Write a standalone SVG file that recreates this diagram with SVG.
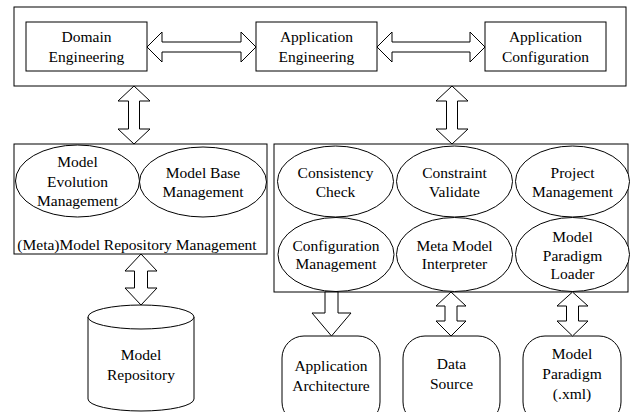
<svg xmlns="http://www.w3.org/2000/svg" width="632" height="412" viewBox="0 0 632 412">
<style>
.b{fill:#fff;stroke:#000;stroke-width:1}
.a{fill:#fff;stroke:#000;stroke-width:1;stroke-linejoin:miter}
.t{font-family:'Liberation Serif','DejaVu Serif',serif;font-size:15.5px;fill:#000;text-anchor:middle}
</style>
<rect width="632" height="412" fill="#fff"/>
<g class="t" font-family="Liberation Serif, serif">
<g id="top-container"><rect class="b" x="14" y="7" width="612" height="79"/></g>
<g id="domain-engineering"><rect class="b" x="26" y="22" width="121" height="49"/><text x="86.5" y="42">Domain</text><text x="86.5" y="62">Engineering</text></g>
<g id="application-engineering"><rect class="b" x="256" y="22" width="121" height="49"/><text x="316.5" y="42">Application</text><text x="316.5" y="62">Engineering</text></g>
<g id="application-configuration"><rect class="b" x="485" y="22" width="121" height="49"/><text x="545.5" y="42">Application</text><text x="545.5" y="62">Configuration</text></g>
<g id="repository-management"><rect class="b" x="14" y="144" width="253" height="110"/><text x="137" y="250">(Meta)Model Repository Management</text></g>
<g id="model-evolution"><ellipse class="b" cx="77.5" cy="181" rx="62" ry="36"/><text x="77.5" y="167">Model</text><text x="77.5" y="187">Evolution</text><text x="77.5" y="206">Management</text></g>
<g id="model-base"><ellipse class="b" cx="203" cy="182" rx="63.5" ry="35"/><text x="203" y="178">Model Base</text><text x="203" y="197">Management</text></g>
<g id="tools-container"><rect class="b" x="274" y="144" width="354" height="148"/></g>
<g id="consistency-check"><ellipse class="b" cx="335.5" cy="181.5" rx="58" ry="35.5"/><text x="335.5" y="178">Consistency</text><text x="335.5" y="197">Check</text></g>
<g id="constraint-validate"><ellipse class="b" cx="454.5" cy="181.5" rx="58" ry="35.5"/><text x="454.5" y="178">Constraint</text><text x="454.5" y="197">Validate</text></g>
<g id="project-management"><ellipse class="b" cx="572.5" cy="181.5" rx="57" ry="35.5"/><text x="572.5" y="178">Project</text><text x="572.5" y="197">Management</text></g>
<g id="configuration-management"><ellipse class="b" cx="336" cy="254.5" rx="58" ry="37"/><text x="336" y="251">Configuration</text><text x="336" y="269">Management</text></g>
<g id="meta-model-interpreter"><ellipse class="b" cx="454.5" cy="254.5" rx="58" ry="37"/><text x="454.5" y="251">Meta Model</text><text x="454.5" y="269">Interpreter</text></g>
<g id="model-paradigm-loader"><ellipse class="b" cx="572.5" cy="254.5" rx="57" ry="37"/><text x="572.5" y="242">Model</text><text x="572.5" y="261">Paradigm</text><text x="572.5" y="279">Loader</text></g>
<g id="model-repository"><path class="b" d="M88,317 L88,399 A53,12 0 0 0 194,399 L194,317"/><ellipse class="b" cx="141" cy="317" rx="53" ry="12"/><text x="141" y="360">Model</text><text x="141" y="380">Repository</text></g>
<g id="application-architecture"><rect class="b" x="282" y="336" width="98" height="88" rx="22" ry="22"/><text x="331" y="371">Application</text><text x="331" y="391">Architecture</text></g>
<g id="data-source"><rect class="b" x="403" y="336" width="97" height="88" rx="22" ry="22"/><text x="451.5" y="369">Data</text><text x="451.5" y="389">Source</text></g>
<g id="model-paradigm"><rect class="b" x="523" y="336" width="98" height="88" rx="22" ry="22"/><text x="572" y="359">Model</text><text x="572" y="379">Paradigm</text><text x="572" y="399">(.xml)</text></g>
</g>
<g id="connectors">
<polygon class="a" points="147,47 162,32 162,42 241,42 241,32 256,47 241,62 241,52 162,52 162,62"/>
<polygon class="a" points="377,47 392,32 392,42 470,42 470,32 485,47 470,62 470,52 392,52 392,62"/>
<polygon class="a" points="134,86 150,101 139.5,101 139.5,129 150,129 134,144 118,129 128.5,129 128.5,101 118,101"/>
<polygon class="a" points="452,86 468,101 457.5,101 457.5,129 468,129 452,144 436,129 446.5,129 446.5,101 436,101"/>
<polygon class="a" points="141,254 157,271 147.5,271 147.5,288 157,288 141,305 125,288 134.5,288 134.5,271 125,271"/>
<polygon class="a" points="325,292 338,292 338,313 351,313 331.5,336 312,313 325,313"/>
<polygon class="a" points="451,292 466,306 457,306 457,321 466,321 451,336 436,321 445,321 445,306 436,306"/>
<polygon class="a" points="572.5,292 588,306 578.5,306 578.5,321 588,321 572.5,336 557,321 566.5,321 566.5,306 557,306"/>
</g>
</svg>
